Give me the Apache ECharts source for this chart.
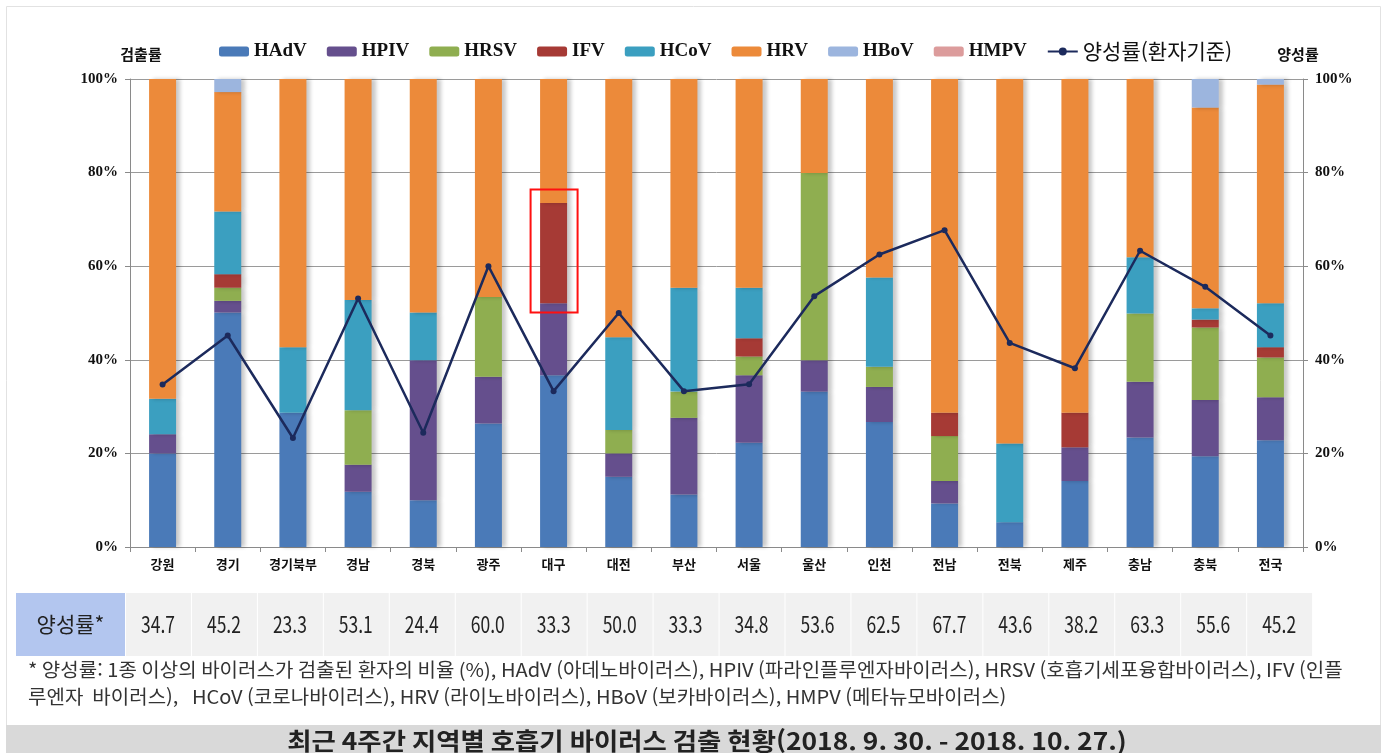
<!DOCTYPE html>
<html lang="ko">
<head>
    <meta charset="UTF-8">
    <title>최근 4주간 지역별 호흡기 바이러스 검출 현황</title>
    <style>
        html, body { margin: 0; padding: 0; background: #fff; }
        #main { width: 1391px; height: 753px; }
    </style>
</head>
<body>
<div id="main"></div>
<script src="https://cdn.jsdelivr.net/npm/echarts@6/dist/echarts.min.js"></script>
<script type="text/javascript">
    // 지역
    var regions = ['강원', '경기', '경기북부', '경남', '경북', '광주', '대구', '대전', '부산',
        '서울', '울산', '인천', '전남', '전북', '제주', '충남', '충북', '전국'];

    // 바이러스별 검출률 (%)
    var hadv = [20.0, 50.1, 28.7, 11.8, 10.0, 26.4, 36.7, 15.0, 11.2, 22.3, 33.2, 26.7, 9.3, 5.3, 14.1, 23.4, 19.4, 22.8];
    var hpiv = [4.1, 2.5, 0, 5.8, 29.9, 10.0, 15.4, 5.0, 16.4, 14.4, 6.7, 7.5, 4.8, 0, 7.2, 11.9, 12.0, 9.2];
    var hrsv = [0, 2.8, 0, 11.6, 0, 17.0, 0, 5.0, 5.6, 4.0, 40.0, 4.3, 9.6, 0, 0, 14.6, 15.5, 8.5];
    var ifv = [0, 2.9, 0, 0, 0, 0, 21.4, 0, 0, 3.9, 0, 0, 5.0, 0, 7.4, 0, 1.7, 2.2];
    var hcov = [7.6, 13.4, 14.0, 23.6, 10.2, 0, 0, 19.8, 22.2, 10.8, 0, 19.1, 0, 16.8, 0, 12.0, 2.4, 9.4];
    var hrv = [68.3, 25.5, 57.3, 47.2, 49.9, 46.6, 26.5, 55.2, 44.6, 44.6, 20.1, 42.4, 71.3, 77.9, 71.3, 38.1, 42.9, 46.7];
    var hbov = [0, 2.8, 0, 0, 0, 0, 0, 0, 0, 0, 0, 0, 0, 0, 0, 0, 6.1, 1.2];
    var hmpv = [0, 0, 0, 0, 0, 0, 0, 0, 0, 0, 0, 0, 0, 0, 0, 0, 0, 0];

    // 양성률 (환자기준, %)
    var positiveRate = [34.7, 45.2, 23.3, 53.1, 24.4, 60.0, 33.3, 50.0, 33.3, 34.8, 53.6, 62.5, 67.7, 43.6, 38.2, 63.3, 55.6, 45.2];

    // 강조 표시 (대구 IFV)
    var highlightRegion = '대구';
    var highlightRange = [50.1, 76.4];

    var footnote1 = '* 양성률: 1종 이상의 바이러스가 검출된 환자의 비율 (%), HAdV (아데노바이러스), HPIV (파라인플루엔자바이러스), HRSV (호흡기세포융합바이러스), IFV (인플';
    var footnote2 = '루엔자  바이러스),   HCoV (코로나바이러스), HRV (라이노바이러스), HBoV (보카바이러스), HMPV (메타뉴모바이러스)';
    var titleText = '최근 4주간 지역별 호흡기 바이러스 검출 현황(2018. 9. 30. - 2018. 10. 27.)';

    var virusList = [
        {name: 'HAdV', data: hadv, color: '#4a7ab8'},
        {name: 'HPIV', data: hpiv, color: '#654f8d'},
        {name: 'HRSV', data: hrsv, color: '#8fae50'},
        {name: 'IFV', data: ifv, color: '#a63a35'},
        {name: 'HCoV', data: hcov, color: '#3b9fc0'},
        {name: 'HRV', data: hrv, color: '#ec8a3a'},
        {name: 'HBoV', data: hbov, color: '#9cb5de'},
        {name: 'HMPV', data: hmpv, color: '#dc9c9c'}
    ];

    var myChart = echarts.init(document.getElementById('main'));

    var series = virusList.map(function (v) {
        return {
            name: v.name,
            type: 'bar',
            stack: 'virus',
            barWidth: 27,
            data: v.data,
            itemStyle: {
                color: v.color,
                shadowColor: 'rgba(0,0,0,0.22)',
                shadowBlur: 4,
                shadowOffsetX: 4
            },
            emphasis: {disabled: true}
        };
    });
    series.push({
        name: '양성률(환자기준)',
        type: 'line',
        yAxisIndex: 1,
        data: positiveRate,
        symbol: 'circle',
        symbolSize: 6,
        z: 10,
        lineStyle: {color: '#1c2a5c', width: 2.5},
        itemStyle: {color: '#1c2a5c'}
    });

    var legendData = virusList.map(function (v) { return {name: v.name}; });
    legendData.push({
        name: '양성률(환자기준)',
        textStyle: {fontFamily: 'Noto Sans CJK KR', fontWeight: 'normal', fontSize: 21}
    });

    var axisLabelFont = {fontFamily: 'Liberation Serif', fontWeight: 'bold', fontSize: 15, color: '#111'};

    myChart.setOption({
        animation: false,
        legend: {
            data: legendData,
            top: 36,
            left: 214,
            itemWidth: 30,
            itemHeight: 10,
            itemGap: 20,
            textStyle: {fontFamily: 'Liberation Serif', fontWeight: 'bold', fontSize: 19, color: '#111'}
        },
        grid: {left: 130, right: 88, top: 79, bottom: 206},
        xAxis: {
            type: 'category',
            data: regions,
            axisLine: {lineStyle: {color: '#8a8a8a'}},
            axisTick: {show: true, interval: 0, length: 5, lineStyle: {color: '#8a8a8a'}},
            axisLabel: {
                interval: 0, margin: 11,
                fontFamily: 'Noto Sans CJK KR', fontWeight: 'bold', fontSize: 13, color: '#111'
            }
        },
        yAxis: [
            {
                type: 'value', min: 0, max: 100, interval: 20,
                axisLine: {show: true, lineStyle: {color: '#8a8a8a'}},
                axisTick: {show: true, length: 5, lineStyle: {color: '#8a8a8a'}},
                splitLine: {lineStyle: {color: '#9a9a9a'}},
                axisLabel: Object.assign({margin: 12, formatter: '{value}%'}, axisLabelFont)
            },
            {
                type: 'value', min: 0, max: 100, interval: 20,
                axisLine: {show: true, lineStyle: {color: '#8a8a8a'}},
                axisTick: {show: true, length: 5, lineStyle: {color: '#8a8a8a'}},
                splitLine: {show: false},
                axisLabel: Object.assign({margin: 12, formatter: '{value}%'}, axisLabelFont)
            }
        ],
        series: series
    });

    // 표, 주석, 제목 등은 차트 좌표에 맞춰 그린다
    var graphics = [];

    // 바깥 테두리
    graphics.push({
        type: 'rect', z: -1,
        shape: {x: 6.5, y: 6.5, width: 1374, height: 760},
        style: {fill: 'none', stroke: '#e2e2e2', lineWidth: 1}
    });

    // 축 제목
    graphics.push({
        type: 'text',
        style: {text: '검출률', x: 141, y: 54, textAlign: 'center', textVerticalAlign: 'middle',
            font: 'bold 15px "Noto Sans CJK KR"', fill: '#111'}
    });
    graphics.push({
        type: 'text',
        style: {text: '양성률', x: 1298, y: 54, textAlign: 'center', textVerticalAlign: 'middle',
            font: 'bold 15px "Noto Sans CJK KR"', fill: '#111'}
    });

    // 강조 박스
    var hTop = myChart.convertToPixel({xAxisIndex: 0, yAxisIndex: 0}, [highlightRegion, highlightRange[1]]);
    var hBot = myChart.convertToPixel({xAxisIndex: 0, yAxisIndex: 0}, [highlightRegion, highlightRange[0]]);
    graphics.push({
        type: 'rect', z: 20,
        shape: {x: hTop[0] - 23, y: hTop[1], width: 47, height: hBot[1] - hTop[1]},
        style: {fill: 'none', stroke: '#ff1010', lineWidth: 2}
    });

    // 양성률 표
    var tableTop = 593, tableH = 63;
    var firstX = 16, firstW = 109, cellW = 65.95;
    graphics.push({
        type: 'rect',
        shape: {x: firstX, y: tableTop, width: firstW, height: tableH},
        style: {fill: '#b3c6ef'}
    });
    graphics.push({
        type: 'text',
        style: {text: '양성률*', x: firstX + firstW / 2, y: tableTop + tableH / 2,
            textAlign: 'center', textVerticalAlign: 'middle',
            font: '21px "Noto Sans CJK KR"', fill: '#222'}
    });
    positiveRate.forEach(function (v, i) {
        var x = firstX + firstW + i * cellW;
        graphics.push({
            type: 'rect',
            shape: {x: x + 1, y: tableTop, width: cellW - 1, height: tableH},
            style: {fill: '#f1f1f1'}
        });
        graphics.push({
            type: 'text',
            scaleX: 0.76,
            x: x + cellW / 2,
            y: tableTop + tableH / 2,
            style: {text: v.toFixed(1), x: 0, y: 0,
                textAlign: 'center', textVerticalAlign: 'middle',
                font: '23px "Noto Sans CJK KR"', fill: '#222'}
        });
    });

    // 각주
    graphics.push({
        type: 'text', x: 28, y: 670, scaleX: 1.055,
        style: {text: footnote1, x: 0, y: 0, textVerticalAlign: 'middle',
            font: '19px "Noto Sans CJK KR"', fill: '#333'}
    });
    graphics.push({
        type: 'text', x: 28, y: 697, scaleX: 1.055,
        style: {text: footnote2, x: 0, y: 0, textVerticalAlign: 'middle',
            font: '19px "Noto Sans CJK KR"', fill: '#333'}
    });

    // 제목 바
    graphics.push({
        type: 'rect',
        shape: {x: 6, y: 725, width: 1375, height: 28},
        style: {fill: '#d9d9d9'}
    });
    graphics.push({
        type: 'text', x: 707, y: 741, scaleX: 1.1,
        style: {text: titleText, x: 0, y: 0, textAlign: 'center', textVerticalAlign: 'middle',
            font: 'bold 24px "Noto Sans CJK KR"', fill: '#222'}
    });

    myChart.setOption({graphic: graphics});
</script>
</body>
</html>
